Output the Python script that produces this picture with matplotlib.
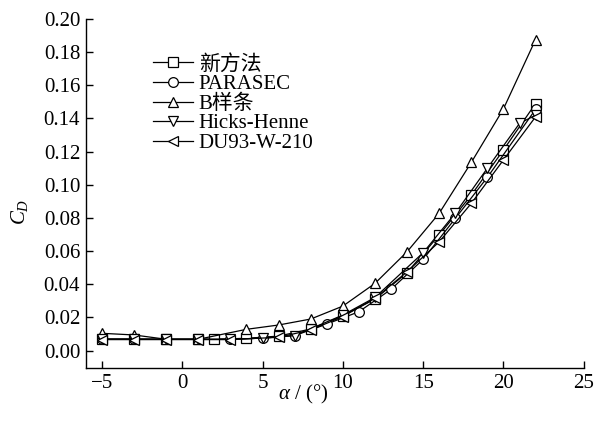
import numpy as np
import matplotlib
matplotlib.use("Agg")
import matplotlib.pyplot as plt

plt.rcParams['font.family'] = ['Liberation Serif', 'Noto Sans CJK SC']
plt.rcParams['mathtext.fontset'] = 'custom'
plt.rcParams['mathtext.rm'] = 'Liberation Serif'
plt.rcParams['mathtext.it'] = 'Liberation Serif:italic'

# data
x_new = [-5, -3, -1, 1, 2, 4, 6, 8, 10, 12, 14, 16, 18, 20, 22]
cd_new = [0.0070, 0.0070, 0.0068, 0.0068, 0.0068, 0.0074, 0.0087, 0.0130, 0.0210,
          0.0310, 0.0470, 0.0697, 0.0938, 0.1210, 0.1490]

x_parsec = [-5, -3, -1, 1, 3, 5, 7, 9, 11, 13, 15, 17, 19, 22]
cd_parsec = [0.0068, 0.0068, 0.0068, 0.0068, 0.0068, 0.0075, 0.0090, 0.0160, 0.0234,
             0.0369, 0.0550, 0.0797, 0.1045, 0.1455]

x_bspline = [-5, -3, -1, 1, 4, 6, 8, 10, 12, 14, 16, 18, 20, 22]
cd_bspline = [0.0104, 0.0094, 0.0068, 0.0068, 0.0128, 0.0154, 0.0190, 0.0268, 0.0405,
              0.0596, 0.0828, 0.1135, 0.1458, 0.1876]

x_hicks = [-5, -3, -1, 1, 3, 5, 7, 10, 12, 15, 17, 19, 21, 22]
cd_hicks = [0.0068, 0.0068, 0.0068, 0.0068, 0.0068, 0.0075, 0.0090, 0.0214, 0.0320,
            0.0590, 0.0828, 0.1100, 0.1370, 0.1420]

x_du = [-5, -3, -1, 1, 3, 6, 8, 10, 12, 14, 16, 18, 20, 22]
cd_du = [0.0066, 0.0066, 0.0066, 0.0066, 0.0066, 0.0080, 0.0124, 0.0205, 0.0315,
         0.0475, 0.0656, 0.0888, 0.1150, 0.1410]

labels = ['新方法', 'PARASEC', 'B样条', 'Hicks-Henne', 'DU93-W-210']
markers = ['s', 'o', '^', 'v', '<']

fig = plt.figure(figsize=(6, 4.21), dpi=100)
ax = fig.add_axes([0.143, 0.126, 0.83, 0.829])

series = [(x_new, cd_new), (x_parsec, cd_parsec), (x_bspline, cd_bspline),
          (x_hicks, cd_hicks), (x_du, cd_du)]
for (xs, ys), lab, mk in zip(series, labels, markers):
    ax.plot(xs, ys, color='black', linewidth=0.9, marker=mk, markersize=7,
            markerfacecolor='white', markeredgecolor='black', markeredgewidth=0.9,
            label=lab)

ax.set_xlim(-6, 25)
ax.set_ylim(-0.0105, 0.20)
ax.set_xticks(np.arange(-5, 26, 5))
ax.set_xticklabels(['\u22125', '0', '5', '10', '15', '20', '25'])
ax.set_yticks(np.arange(0, 0.201, 0.02))
ax.set_yticklabels(['%.2f' % v for v in np.arange(0, 0.201, 0.02)])

for side in ['top', 'right']:
    ax.spines[side].set_visible(False)
for side in ['left', 'bottom']:
    ax.spines[side].set_linewidth(1.0)
ax.tick_params(direction='in', length=5, width=1.0, labelsize=15, pad=4)

ax.set_xlabel(r'$\alpha$ / (°)', fontsize=15)
ax.xaxis.set_label_coords(0.437, -0.043)
fig.text(0.033, 0.497, r'$C_D$', fontsize=15, rotation=90, ha='center', va='center')

ax.legend(loc='upper left', bbox_to_anchor=(0.255, 0.87), bbox_transform=fig.transFigure,
          frameon=False, fontsize=15, handlelength=1.9, handletextpad=0.3,
          labelspacing=0.0, borderpad=0, borderaxespad=0)

fig.savefig('out.png', dpi=100)
